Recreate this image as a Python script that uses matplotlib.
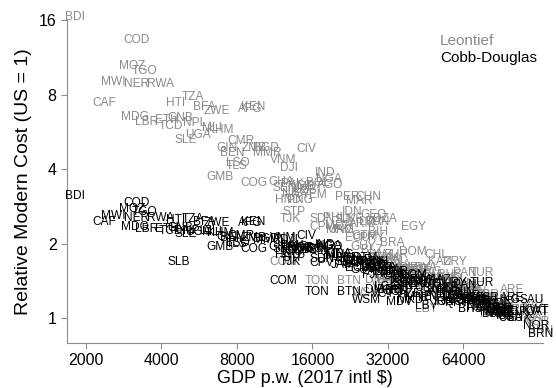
"""Relative modern cost vs GDP per worker, country-code scatter."""

import matplotlib
matplotlib.use('Agg')
import matplotlib.pyplot as plt

plt.rcParams['font.family'] = ['Liberation Sans', 'DejaVu Sans']

# country codes, GDP per worker (2017 intl $), cost under Leontief / Cobb-Douglas
codes = ['BDI', 'COD', 'MOZ', 'TGO', 'MWI', 'NER', 'RWA', 'CAF', 'HTI', 'TZA',
         'BFA', 'ZWE', 'KEN', 'AFG', 'MDG', 'LBR', 'ETH', 'TCD', 'GNB', 'NPL',
         'MLI', 'KHM', 'UGA', 'SLE', 'CMR', 'GIN', 'BEN', 'ZMB', 'BGD', 'MMR',
         'CIV', 'VNM', 'DJI', 'LSO', 'TLS', 'GMB', 'COG', 'GHA', 'PAK', 'KGZ',
         'SEN', 'UZB', 'LAO', 'MRT', 'NIC', 'HND', 'STP', 'TJK', 'COM', 'SLB',
         'IND', 'NGA', 'AGO', 'BOL', 'PER', 'CHN', 'MAR', 'IDN', 'GEO', 'SDN',
         'PHL', 'SLV', 'UKR', 'LKA', 'ARM', 'DZA', 'TUN', 'EGY', 'CPV', 'JAM',
         'ECU', 'BRA', 'GUY', 'DOM', 'CHL', 'KAZ', 'URY', 'TON', 'BTN', 'WSM',
         'BRB', 'MDV', 'LBY', 'PAN', 'TUR', 'ARE', 'ISR', 'SAU', 'KWT', 'QAT',
         'NOR', 'BRN', 'BHS', 'IRL', 'LUX', 'USA', 'CHE', 'SGP', 'DNK', 'NLD',
         'MEX', 'COL', 'THA', 'ZAF', 'MYS', 'ARG', 'RUS', 'POL', 'HUN', 'ROU',
         'BGR', 'SRB', 'MKD', 'ALB', 'MNE', 'BLR', 'LCA', 'DMA', 'GRD', 'VCT',
         'FJI', 'MUS', 'CRI', 'BWA', 'NAM', 'GAB', 'IRN', 'IRQ', 'JOR', 'LBN',
         'SWZ', 'AZE', 'TTO', 'OMN', 'BHR', 'LTU', 'LVA', 'EST', 'SVK', 'CZE',
         'HRV', 'SVN', 'GRC', 'PRT', 'ESP', 'ITA', 'KOR', 'JPN', 'NZL', 'GBR',
         'FRA', 'DEU', 'AUT', 'BEL', 'SWE', 'FIN', 'CAN', 'AUS', 'ISL', 'HKG',
         'MNG', 'PRY', 'GTM', 'BIH', 'MDA', 'PNG', 'YEM', 'BLZ', 'SUR', 'VEN']

gdp = [1810, 3190, 3050, 3410, 2560, 3190, 3950, 2360, 4570, 5340,
       5910, 6660, 9270, 9010, 3140, 3500, 4210, 4360, 4740, 5440,
       6360, 6840, 5590, 5010, 8300, 7300, 7640, 9350, 10440, 10540,
       15070, 12200, 12900, 8070, 8000, 6840, 9350, 11980, 13260, 14260,
       12430, 14930, 13880, 15640, 13260, 12780, 13500, 13010, 12200, 4700,
       17950, 18620, 18790, 16830, 21960, 26630, 24520, 22990, 28140, 17460,
       19670, 21560, 22990, 27120, 25200, 31130, 29190, 40260, 17460, 21170,
       24290, 33190, 25430, 40260, 49720, 51580, 59200, 16680, 22370, 26390,
       32290, 35400, 45360, 64890, 75840, 99880, 81630, 120000, 123400, 125700,
       124500, 130000, 67930, 93680, 107500, 98070, 89460, 102700, 85460, 83140,
       37410, 34120, 35730, 42930, 54000, 47050, 56540, 59200, 63130, 51580,
       41000, 37410, 39160, 29190, 42150, 39890, 31420, 29190, 34120, 30560,
       27120, 52540, 44950, 44130, 31130, 47930, 46200, 53520, 35080, 36390,
       29730, 39160, 67930, 71780, 66700, 60850, 57590, 61970, 64890, 69190,
       59200, 71130, 56540, 60300, 73110, 81630, 74470, 77960, 73110, 80140,
       87040, 89460, 91960, 98070, 91120, 85460, 87840, 91960, 93680, 95410,
       20590, 27620, 25910, 29190, 20220, 14260, 16370, 27620, 34440, 32590]

leontief = [16.45, 13.28, 10.43, 9.96, 8.99, 8.82, 8.82, 7.39, 7.39, 7.82,
            7.12, 6.86, 7.12, 6.99, 6.49, 6.20, 6.31, 5.97, 6.43, 6.14,
            5.86, 5.75, 5.49, 5.24, 5.19, 4.86, 4.64, 4.86, 4.86, 4.64,
            4.82, 4.35, 4.04, 4.23, 4.11, 3.71, 3.51, 3.55, 3.48, 3.42,
            3.35, 3.29, 3.23, 3.38, 3.17, 3.00, 2.68, 2.51, 1.68, 2.30,
            3.85, 3.65, 3.45, 3.51, 3.08, 3.08, 2.97, 2.68, 2.61, 2.51,
            2.54, 2.49, 2.51, 2.44, 2.40, 2.51, 2.44, 2.33, 2.33, 2.27,
            2.11, 2.01, 1.94, 1.85, 1.80, 1.68, 1.68, 1.41, 1.41, 1.26,
            1.42, 1.30, 1.09, 1.52, 1.52, 1.30, 1.24, 1.13, 1.06, 1.00,
            0.96, 0.89, 1.09, 1.06, 1.03, 1.00, 1.10, 1.08, 1.06, 1.04,
            1.56, 1.68, 1.64, 1.56, 1.45, 1.53, 1.49, 1.42, 1.37, 1.40,
            1.56, 1.53, 1.48, 1.68, 1.45, 1.59, 1.49, 1.42, 1.45, 1.37,
            1.62, 1.38, 1.49, 1.59, 1.75, 1.45, 1.36, 1.30, 1.38, 1.56,
            1.80, 1.40, 1.24, 1.21, 1.30, 1.32, 1.36, 1.30, 1.32, 1.33,
            1.27, 1.27, 1.30, 1.24, 1.24, 1.18, 1.20, 1.16, 1.14, 1.12,
            1.12, 1.10, 1.10, 1.08, 1.06, 1.08, 1.09, 1.04, 1.02, 1.12,
            2.27, 2.11, 2.15, 2.23, 2.35, 3.00, 3.14, 1.88, 1.80, 1.71]

cobb_douglas = [3.11, 2.92, 2.76, 2.68, 2.58, 2.54, 2.54, 2.44, 2.49, 2.51,
                2.44, 2.42, 2.44, 2.42, 2.33, 2.29, 2.29, 2.25, 2.31, 2.25,
                2.23, 2.21, 2.23, 2.19, 2.15, 2.13, 2.11, 2.11, 2.09, 2.07,
                2.15, 2.11, 2.07, 2.01, 1.99, 1.94, 1.90, 1.94, 1.95, 1.92,
                1.90, 1.88, 1.94, 1.90, 1.85, 1.80, 1.75, 1.68, 1.41, 1.68,
                1.97, 1.95, 1.94, 1.90, 1.75, 1.68, 1.72, 1.70, 1.64, 1.73,
                1.73, 1.68, 1.67, 1.62, 1.65, 1.59, 1.62, 1.48, 1.67, 1.64,
                1.59, 1.53, 1.56, 1.49, 1.41, 1.42, 1.38, 1.27, 1.27, 1.18,
                1.30, 1.16, 1.12, 1.36, 1.38, 1.20, 1.20, 1.18, 1.08, 1.06,
                0.93, 0.86, 1.09, 1.04, 1.00, 1.00, 1.13, 1.06, 1.04, 1.06,
                1.42, 1.48, 1.45, 1.37, 1.32, 1.37, 1.30, 1.27, 1.26, 1.30,
                1.40, 1.37, 1.18, 1.53, 1.22, 1.37, 1.33, 1.30, 1.29, 1.25,
                1.49, 1.23, 1.32, 1.42, 1.56, 1.27, 1.20, 1.16, 1.27, 1.35,
                1.59, 1.25, 1.16, 1.18, 1.23, 1.23, 1.22, 1.18, 1.20, 1.20,
                1.18, 1.18, 1.16, 1.15, 1.17, 1.14, 1.16, 1.13, 1.11, 1.10,
                1.09, 1.08, 1.07, 1.06, 1.04, 1.06, 1.08, 1.05, 1.02, 1.18,
                1.80, 1.68, 1.75, 1.68, 1.81, 1.92, 1.88, 1.59, 1.53, 1.51]

x_ticks = [2000, 4000, 8000, 16000, 32000, 64000]
y_ticks = [1, 2, 4, 8, 16]

GRAY = '#8a8a8a'
AXIS = '#8c8c8c'

fig = plt.figure(figsize=(5.56, 3.88), dpi=100)
ax = fig.add_axes([67 / 556, 45 / 388, 476 / 556, 323 / 388])
ax.set_xscale('log', base=2)
ax.set_yscale('log', base=2)
ax.set_xlim(1680, 132800)
ax.set_ylim(0.7925, 16)

for c, x, y in zip(codes, gdp, leontief):
    ax.text(x, y, c, color=GRAY, fontsize=8.6, ha='center', va='center')
for c, x, y in zip(codes, gdp, cobb_douglas):
    ax.text(x, y, c, color='black', fontsize=8.6, ha='center', va='center')

ax.set_xticks(x_ticks)
ax.set_xticklabels([str(v) for v in x_ticks])
ax.set_yticks(y_ticks)
ax.set_yticklabels([str(v) for v in y_ticks])
ax.minorticks_off()
ax.tick_params(colors=AXIS, labelcolor='black', labelsize=11.5, length=4, width=0.8)
for side in ['top', 'right']:
    ax.spines[side].set_visible(False)
for side in ['left', 'bottom']:
    ax.spines[side].set_color(AXIS)
    ax.spines[side].set_linewidth(0.8)

ax.set_xlabel('GDP p.w. (2017 intl $)', fontsize=13, labelpad=1)
ax.set_ylabel('Relative Modern Cost (US = 1)', fontsize=14, labelpad=5)

fig.text(440 / 556, 1 - 41 / 388, 'Leontief', color=GRAY, fontsize=11, va='center')
fig.text(440 / 556, 1 - 58 / 388, 'Cobb-Douglas', color='black', fontsize=11, va='center')

fig.savefig('out.png', dpi=100)
